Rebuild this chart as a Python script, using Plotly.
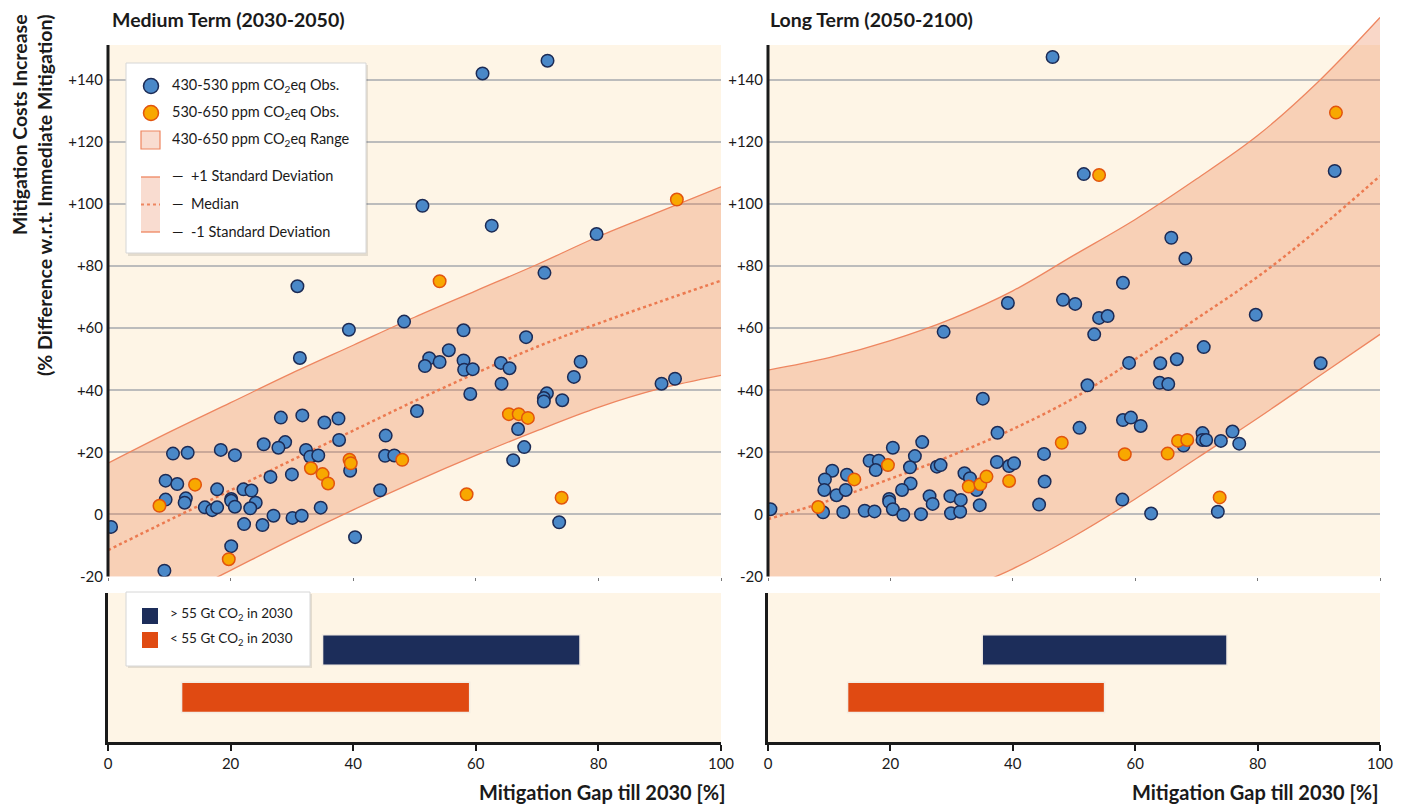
import plotly.graph_objects as go

# ---- data ------------------------------------------------------------------
gap_grid = [0, 10, 20, 30, 40, 50, 60, 70, 80, 90, 100]

# Medium term (2030-2050)
mt_upper = [16.5, 26.5, 36, 45.5, 54.5, 63.5, 72, 80.5, 89.5, 97.5, 105.5]
mt_median = [-11.5, -1.8, 7.8, 17.5, 27, 36.5, 45.5, 54, 61.5, 68.5, 75.3]
mt_lower = [-37.5, -28, -18, -8, 1.5, 10.5, 19, 27, 34.5, 40.5, 44.8]

mt_blue_x = [0.5, 30.9, 39.3, 48.3, 58.0, 31.3, 55.6, 52.4, 51.7, 54.1, 58.0, 58.1, 59.5,
             64.1, 64.2, 59.1, 50.4, 28.2, 31.7, 35.3, 37.6, 37.7, 45.3, 28.9, 25.4, 27.8,
             32.3, 33.0, 34.3, 45.2, 46.7, 39.5, 30.0, 26.5, 10.6, 13.0, 18.4, 20.7, 9.4,
             11.3, 9.4, 12.7, 12.5, 17.8, 15.8, 17.0, 17.8, 20.1, 20.1, 20.7, 22.1, 23.4,
             24.1, 23.2, 22.2, 25.2, 27.0, 30.1, 31.6, 34.7, 44.4, 40.3, 20.1, 9.2, 51.3,
             61.1, 71.7, 62.6, 79.7, 71.2, 68.2, 65.5, 77.1, 76.0, 71.6, 71.1, 71.1, 74.1,
             90.3, 92.5, 66.9, 67.9, 66.1, 73.6]
mt_blue_y = [-4.0, 73.5, 59.5, 62.1, 59.3, 50.4, 52.9, 50.3, 47.8, 49.1, 49.6, 46.6, 46.8,
             48.8, 42.1, 38.8, 33.3, 31.2, 31.9, 29.6, 30.9, 24.0, 25.4, 23.3, 22.6, 21.5,
             20.8, 18.6, 19.0, 18.9, 19.0, 14.1, 12.9, 12.1, 19.6, 19.9, 20.8, 19.1, 10.9,
             9.8, 4.8, 5.2, 3.8, 8.1, 2.3, 1.4, 2.3, 5.0, 4.4, 2.5, 8.1, 7.7,
             3.8, 2.0, -3.1, -3.4, -0.4, -1.1, -0.4, 2.2, 7.8, -7.3, -10.2, -18.1, 99.4,
             142.0, 146.1, 93.0, 90.3, 77.8, 57.1, 47.1, 49.2, 44.3, 39.0, 37.5, 36.4, 36.8,
             42.1, 43.7, 27.5, 21.7, 17.5, -2.5]
mt_orange_x = [54.1, 48.0, 39.4, 39.6, 33.1, 35.0, 35.9, 14.2, 8.4, 58.5, 19.7, 92.8,
               65.4, 67.0, 68.5, 74.0]
mt_orange_y = [75.1, 17.6, 17.6, 16.5, 14.9, 13.0, 10.0, 9.6, 2.8, 6.5, -14.4, 101.4,
               32.3, 32.3, 31.1, 5.4]

# Long term (2050-2100)
lt_upper = [46.5, 50.5, 56, 63, 72, 83.5, 95, 108, 122, 139.5, 160]
lt_median = [-1.5, 4.5, 11.5, 19, 27.5, 37.5, 50, 63, 76.5, 92, 109]
lt_lower = [-50, -42, -34, -26, -17.5, -7, 5, 18, 31, 44.5, 58]

lt_blue_x = [0.4, 35.1, 37.5, 25.2, 20.4, 16.6, 18.1, 17.6, 24.0, 23.2, 23.3, 21.9, 10.5,
             9.3, 12.9, 9.2, 11.2, 12.7, 9.0, 12.3, 15.8, 17.4, 19.8, 19.8, 20.4, 22.1,
             25.0, 26.4, 26.9, 27.6, 28.2, 29.8, 29.9, 31.4, 31.5, 32.1, 33.0, 34.1, 34.6,
             37.4, 39.4, 40.2, 44.3, 45.2, 45.1, 50.9, 46.5, 51.6, 39.2, 48.2, 50.2, 28.7,
             53.3, 52.2, 92.6, 65.9, 68.2, 58.0, 54.1, 55.5, 79.7, 71.2, 59.0, 64.1, 66.8,
             90.3, 64.0, 65.4, 58.0, 59.3, 60.9, 67.9, 71.0, 71.0, 71.6, 74.0, 75.9, 77.0,
             57.9, 62.6, 73.5]
lt_blue_y = [1.7, 37.3, 26.3, 23.3, 21.5, 17.3, 17.3, 14.3, 18.8, 15.2, 10.0, 7.9, 14.1,
             11.3, 12.8, 7.9, 6.2, 7.9, 0.7, 0.8, 1.2, 1.0, 5.0, 4.1, 1.7, -0.1,
             0.1, 5.9, 3.4, 15.4, 15.9, 5.9, 0.4, 0.9, 4.7, 13.3, 11.7, 7.9, 3.0,
             16.9, 15.6, 16.5, 3.2, 10.6, 19.5, 27.9, 147.3, 109.6, 68.1, 69.1, 67.8, 58.8,
             58.0, 41.6, 110.6, 89.1, 82.4, 74.6, 63.3, 63.9, 64.3, 53.9, 48.8, 48.7, 50.0,
             48.7, 42.4, 42.0, 30.4, 31.2, 28.5, 22.2, 26.2, 24.0, 24.0, 23.7, 26.7, 22.8,
             4.8, 0.3, 0.9]
lt_orange_x = [19.6, 14.1, 8.2, 32.8, 34.7, 35.7, 39.4, 48.0, 54.1, 92.8, 58.3, 65.3,
               67.0, 68.5, 73.8]
lt_orange_y = [15.9, 11.3, 2.4, 9.0, 9.7, 12.2, 10.8, 23.1, 109.3, 129.4, 19.4, 19.6,
               23.7, 24.0, 5.5]

# 2030 emission ranges (bottom panels)
bar_labels = ["< 55 Gt CO<sub>2</sub> in 2030", "> 55 Gt CO<sub>2</sub> in 2030"]
mt_bar_start = [12, 35]
mt_bar_end = [59, 77]
lt_bar_start = [13, 35]
lt_bar_end = [55, 75]

y_ticks = [-20, 0, 20, 40, 60, 80, 100, 120, 140]
y_ticktext = ["-20", "0", "+20", "+40", "+60", "+80", "+100", "+120", "+140"]
x_ticks = [0, 20, 40, 60, 80, 100]

# ---- styling ----------------------------------------------------------------
FONT = "Lato, 'Noto Sans', sans-serif"
CREAM = "#fef5e6"
BAND_LINE = "#ee8660"
BAND_FILL = "rgba(236,122,72,0.30)"
BLUE, BLUE_EDGE = "#4a88c8", "#1c2b55"
ORANGE, ORANGE_EDGE = "#f8a800", "#e2540e"
NAVY, RED = "#1c2d5a", "#e04a12"
GRID = "#bcbcbc"

# the page puts the figure 8px in from the window corner
OFF = 8
W, H = 1400, 800
ML, MR, MT, MB = 100, 28, 8, 66
PW, PH = W - ML - MR, H - MT - MB
Y_TOP = 160.5     # top of the scatter y range
Y_BG = 151.2      # top of the cream area


def px_x(px):
    return (px - OFF - ML) / PW


def px_y(py):
    return (H - MB - (py - OFF)) / PH


fig = go.Figure()

panels = [
    ("x", "y", mt_upper, mt_median, mt_lower, mt_blue_x, mt_blue_y, mt_orange_x, mt_orange_y),
    ("x2", "y2", lt_upper, lt_median, lt_lower, lt_blue_x, lt_blue_y, lt_orange_x, lt_orange_y),
]
for xa, ya, up, med, low, bx, by, ox, oy in panels:
    fig.add_trace(go.Scatter(x=gap_grid, y=up, mode="lines", xaxis=xa, yaxis=ya,
                             line=dict(color=BAND_LINE, width=1.3, shape="spline"),
                             showlegend=False, hoverinfo="skip"))
    fig.add_trace(go.Scatter(x=gap_grid, y=low, mode="lines", xaxis=xa, yaxis=ya,
                             fill="tonexty", fillcolor=BAND_FILL,
                             line=dict(color=BAND_LINE, width=1.3, shape="spline"),
                             showlegend=False, hoverinfo="skip"))
    fig.add_trace(go.Scatter(x=gap_grid, y=med, mode="lines", xaxis=xa, yaxis=ya,
                             line=dict(color="#ec7a50", width=2.5, dash="dot", shape="spline"),
                             showlegend=False, hoverinfo="skip"))
    fig.add_trace(go.Scatter(x=bx, y=by, mode="markers", xaxis=xa, yaxis=ya,
                             marker=dict(size=12.5, color=BLUE,
                                         line=dict(color=BLUE_EDGE, width=1.5)),
                             showlegend=False))
    fig.add_trace(go.Scatter(x=ox, y=oy, mode="markers", xaxis=xa, yaxis=ya,
                             marker=dict(size=12.5, color=ORANGE,
                                         line=dict(color=ORANGE_EDGE, width=1.5)),
                             showlegend=False))

for xa, ya, starts, ends in [("x3", "y3", mt_bar_start, mt_bar_end),
                             ("x4", "y4", lt_bar_start, lt_bar_end)]:
    for lab, s, e, col in zip(bar_labels, starts, ends, [RED, NAVY]):
        fig.add_trace(go.Bar(y=[lab], x=[e - s], base=[s], orientation="h",
                             xaxis=xa, yaxis=ya, width=0.64,
                             marker=dict(color=col, line=dict(color="#f3ece2", width=1.5)),
                             showlegend=False))

shapes = []
# cream backgrounds and the vertical axis lines of the scatter panels
for xa, ya in [("x", "y"), ("x2", "y2")]:
    shapes.append(dict(type="rect", xref=xa, yref=ya, x0=0, x1=100, y0=-20, y1=Y_BG,
                       fillcolor=CREAM, line=dict(width=0), layer="below"))
    shapes.append(dict(type="line", xref=f"{xa} domain", yref=f"{ya} domain",
                       x0=0, x1=0, y0=0, y1=(Y_BG + 20) / (Y_TOP + 20),
                       line=dict(color="#1a1a1a", width=3), layer="above"))
for xa, ya in [("x3", "y3"), ("x4", "y4")]:
    shapes.append(dict(type="rect", xref=f"{xa} domain", yref=f"{ya} domain",
                       x0=0, x1=1, y0=0, y1=1,
                       fillcolor=CREAM, line=dict(width=0), layer="below"))


def box(x0, y0, x1, y1, **kw):
    return dict(type="rect", xref="paper", yref="paper", x0=px_x(x0), x1=px_x(x1),
                y0=px_y(y1), y1=px_y(y0), layer="above", **kw)


# main legend box
shapes.append(box(128, 65, 368, 256, fillcolor="rgba(0,0,0,0.10)", line=dict(width=0)))
shapes.append(box(126, 63, 366, 253, fillcolor="white", line=dict(color="#d6d6d6", width=1)))
for cy, fc, lc in [(86, BLUE, BLUE_EDGE), (113, ORANGE, ORANGE_EDGE)]:
    shapes.append(dict(type="circle", xref="paper", yref="paper",
                       x0=px_x(143.5), x1=px_x(158.5), y0=px_y(cy + 7.5), y1=px_y(cy - 7.5),
                       fillcolor=fc, line=dict(color=lc, width=1.5), layer="above"))
shapes.append(box(141, 131, 160, 149, fillcolor="#f9dcd0", line=dict(color=BAND_LINE, width=1.2)))
shapes.append(box(141, 177, 160, 232, fillcolor="#f9dcd0", line=dict(width=0)))
for yy, dash, wd in [(177, "solid", 1.3), (232, "solid", 1.3), (204.5, "dot", 2.2)]:
    shapes.append(dict(type="line", xref="paper", yref="paper", x0=px_x(141), x1=px_x(160),
                       y0=px_y(yy), y1=px_y(yy), layer="above",
                       line=dict(color=BAND_LINE, width=wd, dash=dash)))

# bar legend box
shapes.append(box(128, 594, 312, 668, fillcolor="rgba(0,0,0,0.10)", line=dict(width=0)))
shapes.append(box(126, 592, 310, 666, fillcolor="white", line=dict(color="#d6d6d6", width=1)))
shapes.append(box(142, 608, 158, 624, fillcolor=NAVY, line=dict(width=0)))
shapes.append(box(142, 632, 158, 648, fillcolor=RED, line=dict(width=0)))

annotations = []


def text(px, py, s, size=14, bold=False, anchor="left", angle=0, yanchor="middle",
         align="left"):
    if bold:
        s = f"<b>{s}</b>"
    annotations.append(dict(x=px_x(px), y=px_y(py), xref="paper", yref="paper", text=s,
                            showarrow=False, xanchor=anchor, yanchor=yanchor,
                            textangle=angle, align=align,
                            font=dict(family=FONT, size=size, color="#1a1a1a")))


text(170, 86, "430-530 ppm CO<sub>2</sub>eq Obs.", size=14.5)
text(170, 113, "530-650 ppm CO<sub>2</sub>eq Obs.", size=14.5)
text(170, 140, "430-650 ppm CO<sub>2</sub>eq Range", size=14.5)
text(170, 175, "—  +1 Standard Deviation", size=14.5)
text(170, 203, "—  Median", size=14.5)
text(170, 231, "—  -1 Standard Deviation", size=14.5)
text(168, 614, "&gt; 55 Gt CO<sub>2</sub> in 2030", size=13.5)
text(168, 639, "&lt; 55 Gt CO<sub>2</sub> in 2030", size=13.5)

text(110, 20, "Medium Term (2030-2050)", size=19.5, bold=True)
text(768, 20, "Long Term (2050-2100)", size=19.5, bold=True)
text(728, 792, "Mitigation Gap till 2030 [%]", size=20, bold=True, anchor="right")
text(1381, 792, "Mitigation Gap till 2030 [%]", size=20, bold=True, anchor="right")
text(32, 12, "Mitigation Costs Increase<br>(% Difference w.r.t. Immediate Mitigation)",
     size=19.5, bold=True, anchor="center", angle=-90, yanchor="top", align="right")

top_dom = [px_y(576.6), 1]
bot_dom = [0, px_y(593)]
left_dom = [0, px_x(721)]
right_dom = [px_x(768), 1]

tick_font = dict(family=FONT, size=15, color="#1a1a1a")
top_x = dict(range=[0, 100], showgrid=False, zeroline=False, showline=False,
             tickvals=x_ticks, showticklabels=False, ticks="outside", ticklen=3,
             tickcolor="#777")
top_y = dict(range=[-20, Y_TOP], tickvals=y_ticks, ticktext=y_ticktext, showgrid=True,
             gridcolor=GRID, gridwidth=1.5, zeroline=False, showline=False,
             tickfont=tick_font, ticks="", ticklabelstandoff=4)
bot_x = dict(range=[0, 100], tickvals=x_ticks, showgrid=False, zeroline=False,
             showline=True, linecolor="#1a1a1a", linewidth=2.5, ticks="outside",
             ticklen=6, tickwidth=1.5, tickcolor="#1a1a1a", tickfont=tick_font)
bot_y = dict(type="category", categoryorder="array", categoryarray=bar_labels,
             range=[-0.94, 2.2], showgrid=False, zeroline=False, showline=True,
             linecolor="#1a1a1a", linewidth=2.5, showticklabels=False, ticks="")

fig.update_layout(
    width=W, height=H,
    margin=dict(l=ML, r=MR, t=MT, b=MB),
    paper_bgcolor="white", plot_bgcolor="rgba(0,0,0,0)",
    font=dict(family=FONT),
    barmode="overlay",
    showlegend=False,
    xaxis=dict(domain=left_dom, anchor="y", **top_x),
    yaxis=dict(domain=top_dom, anchor="x", **top_y),
    xaxis2=dict(domain=right_dom, anchor="y2", **top_x),
    yaxis2=dict(domain=top_dom, anchor="x2", **top_y),
    xaxis3=dict(domain=left_dom, anchor="y3", **bot_x),
    yaxis3=dict(domain=bot_dom, anchor="x3", **bot_y),
    xaxis4=dict(domain=right_dom, anchor="y4", **bot_x),
    yaxis4=dict(domain=bot_dom, anchor="x4", **bot_y),
    shapes=shapes,
    annotations=annotations,
)

fig.write_html("out.html")
